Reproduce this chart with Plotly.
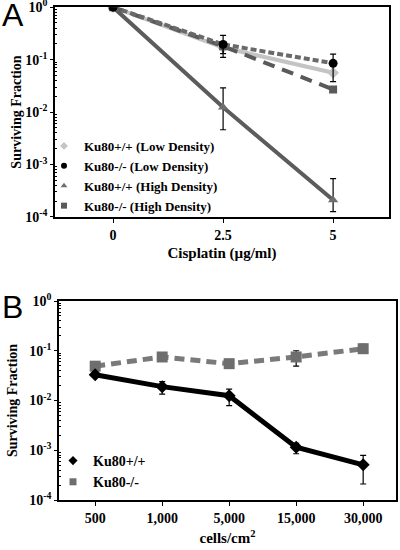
import plotly.graph_objects as go

# ---------- Panel A data ----------
dose = [0, 2.5, 5]
dose_labels = ["0", "2.5", "5"]
wt_low = [1.0, 0.17, 0.056]
ko_low = [1.0, 0.195, 0.085]
ko_low_up = [float("nan"), 0.29, 0.127]
ko_low_dn = [float("nan"), 0.13, 0.038]
wt_high = [1.0, 0.0123, 0.00021]
wt_high_up = [float("nan"), 0.029, 0.00054]
wt_high_dn = [float("nan"), 0.0046, 0.000126]
ko_high = [1.0, 0.18, 0.027]
ko_high_up = [float("nan"), 0.2, float("nan")]
ko_high_dn = [float("nan"), 0.11, float("nan")]
names_a = ["Ku80+/+ (Low Density)", "Ku80-/- (Low Density)",
           "Ku80+/+ (High Density)", "Ku80-/- (High Density)"]

# ---------- Panel B data ----------
density = ["500", "1,000", "5,000", "15,000", "30,000"]
wt_b = [0.033, 0.019, 0.0125, 0.00115, 0.00051]
wt_b_up = [0.038, 0.024, 0.017, 0.00138, 0.00079]
wt_b_dn = [0.029, 0.0135, 0.0079, 0.00085, 0.00021]
ko_b = [0.049, 0.075, 0.055, 0.075, 0.11]
ko_b_up = [0.053, 0.078, 0.058, 0.1, 0.135]
ko_b_dn = [0.045, 0.072, 0.052, 0.049, 0.095]
names_b = ["Ku80+/+", "Ku80-/-"]

ytick_vals = [1, 0.1, 0.01, 0.001, 0.0001]
ytick_text = ["10<sup>0</sup>", "10<sup>-1</sup>", "10<sup>-2</sup>",
              "10<sup>-3</sup>", "10<sup>-4</sup>"]

SERIF = "Liberation Serif"


def bold(items):
    return ["<b>" + t + "</b>" for t in items]


def err(v, up, dn):
    a = [u - x if u == u else float("nan") for u, x in zip(up, v)]
    b = [x - d if d == d else float("nan") for d, x in zip(dn, v)]
    return dict(type="data", symmetric=False, array=a, arrayminus=b,
                color="black", thickness=1.2, width=3)


fig = go.Figure()

x_idx = list(range(len(density)))

# Panel A traces
fig.add_trace(go.Scatter(x=dose, y=wt_low, mode="lines+markers", showlegend=False,
                         line=dict(color="#c4c4c4", width=4),
                         marker=dict(symbol="diamond", size=9, color="#c4c4c4"),
                         xaxis="x", yaxis="y"))
fig.add_trace(go.Scatter(x=dose, y=wt_high, mode="lines+markers", showlegend=False,
                         line=dict(color="#5c5c5c", width=4),
                         marker=dict(symbol="triangle-up", size=9, color="#6e6e6e"),
                         error_y=err(wt_high, wt_high_up, wt_high_dn),
                         xaxis="x", yaxis="y"))
fig.add_trace(go.Scatter(x=dose, y=ko_high, mode="lines+markers", showlegend=False,
                         line=dict(color="#5a5a5a", width=4, dash="12px,8px"),
                         marker=dict(symbol="square", size=8, color="#5a5a5a"),
                         error_y=err(ko_high, ko_high_up, ko_high_dn),
                         xaxis="x", yaxis="y"))
fig.add_trace(go.Scatter(x=dose, y=ko_low, mode="lines+markers", showlegend=False,
                         line=dict(color="#6a6a6a", width=4, dash="6px,3px"),
                         marker=dict(symbol="circle", size=9, color="black"),
                         error_y=err(ko_low, ko_low_up, ko_low_dn),
                         xaxis="x", yaxis="y"))

# Panel A legend entries
leg_a_sym = ["diamond", "circle", "triangle-up", "square"]
leg_a_col = ["#c4c4c4", "black", "#6e6e6e", "#5a5a5a"]
for n, s, c in zip(names_a, leg_a_sym, leg_a_col):
    fig.add_trace(go.Scatter(x=[None], y=[None], mode="markers", name="<b>" + n + "</b>",
                             marker=dict(symbol=s, size=6, color=c),
                             legend="legend", xaxis="x", yaxis="y"))

# Panel B traces
fig.add_trace(go.Scatter(x=x_idx, y=ko_b, mode="lines+markers", showlegend=False,
                         line=dict(color="#7a7a7a", width=5, dash="10px,6px"),
                         marker=dict(symbol="square", size=11, color="#6e6e6e"),
                         error_y=err(ko_b, ko_b_up, ko_b_dn),
                         xaxis="x2", yaxis="y2"))
fig.add_trace(go.Scatter(x=x_idx, y=wt_b, mode="lines+markers", showlegend=False,
                         line=dict(color="black", width=5),
                         marker=dict(symbol="diamond", size=10, color="black"),
                         error_y=err(wt_b, wt_b_up, wt_b_dn),
                         xaxis="x2", yaxis="y2"))
for n, s, c in zip(names_b, ["diamond", "square"], ["black", "#6e6e6e"]):
    fig.add_trace(go.Scatter(x=[None], y=[None], mode="markers", name="<b>" + n + "</b>",
                             marker=dict(symbol=s, size=7, color=c),
                             legend="legend2", xaxis="x2", yaxis="y2"))

minor_vals = [m * 10 ** e for e in range(-4, 0) for m in range(2, 10)]

tickfont = dict(family=SERIF, size=14, color="black")
yax_common = dict(type="log", range=[-4, 0], tickvals=ytick_vals, ticktext=bold(ytick_text),
                  ticks="outside", ticklen=3, tickcolor="black", showgrid=False,
                  zeroline=False, showline=True, linecolor="black", linewidth=1.5,
                  mirror=True, automargin=False, ticklabeloverflow="allow",
                  minor=dict(tickmode="array", tickvals=minor_vals, ticks="inside",
                             ticklen=2, tickcolor="black", showgrid=False),
                  tickfont=tickfont)
xax_common = dict(ticks="outside", ticklen=4, tickcolor="black", showgrid=False,
                  zeroline=False, showline=True, linecolor="black", linewidth=1.5,
                  mirror=True, automargin=False, ticklabeloverflow="allow",
                  tickfont=tickfont)

fig.update_layout(
    width=400, height=550, margin=dict(l=0, r=0, t=0, b=0, autoexpand=False),
    paper_bgcolor="white", plot_bgcolor="white",
    xaxis=dict(domain=[0.1375, 0.9725], range=[-1.32, 6.27], tickvals=dose,
               ticktext=bold(dose_labels), anchor="y",
               title=dict(text="<b>Cisplatin (µg/ml)</b>", standoff=6,
                          font=dict(family=SERIF, size=15, color="black")),
               **xax_common),
    yaxis=dict(domain=[0.6055, 0.987], anchor="x",
               title=dict(text="<b>Surviving Fraction</b>", standoff=0,
                          font=dict(family=SERIF, size=14, color="black")),
               **yax_common),
    xaxis2=dict(domain=[0.1475, 0.99], range=[-0.54, 4.49], tickvals=x_idx,
                ticktext=bold(density), anchor="y2",
                title=dict(text="<b>cells/cm<sup>2</sup></b>", standoff=8,
                           font=dict(family=SERIF, size=15, color="black")),
                **xax_common),
    yaxis2=dict(domain=[0.0909, 0.4527], anchor="x2",
                title=dict(text="<b>Surviving Fraction</b>", standoff=8,
                           font=dict(family=SERIF, size=14, color="black")),
                **yax_common),
    legend=dict(x=0.11, y=1 - 131 / 550, xanchor="left", yanchor="top",
                bgcolor="rgba(0,0,0,0)", itemwidth=30,
                font=dict(family=SERIF, size=13, color="black")),
    legend2=dict(x=0.1325, y=1 - 445 / 550, xanchor="left", yanchor="top",
                 bgcolor="rgba(0,0,0,0)", itemwidth=30,
                 font=dict(family=SERIF, size=14, color="black")),
    annotations=[
        dict(text="A", x=0.0, y=1 - 15 / 550, xref="paper", yref="paper",
             xanchor="left", yanchor="middle", showarrow=False,
             font=dict(family="Liberation Sans", size=32, color="black")),
        dict(text="B", x=0.0, y=1 - 307 / 550, xref="paper", yref="paper",
             xanchor="left", yanchor="middle", showarrow=False,
             font=dict(family="Liberation Sans", size=32, color="black")),
    ],
)

fig.write_html("out.html", config={"displayModeBar": False},
               post_script="document.body.style.margin='0';")
